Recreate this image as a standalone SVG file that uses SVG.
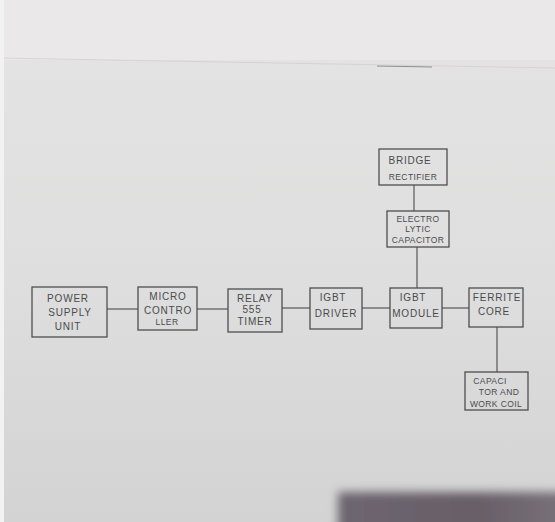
<svg xmlns="http://www.w3.org/2000/svg" width="555" height="522" viewBox="0 0 555 522">
<defs>
<linearGradient id="paper" x1="0" y1="0" x2="0" y2="1">
<stop offset="0" stop-color="#e6e4e5"/>
<stop offset="0.5" stop-color="#dedfde"/>
<stop offset="1" stop-color="#d2d3d2"/>
</linearGradient>
<linearGradient id="shadow" x1="0" y1="0" x2="1" y2="0">
<stop offset="0" stop-color="#6e6670"/>
<stop offset="0.6" stop-color="#675e68"/>
<stop offset="1" stop-color="#7a727b"/>
</linearGradient>
<filter id="blur" x="-10%" y="-50%" width="120%" height="200%"><feGaussianBlur stdDeviation="5"/></filter>
</defs>
<style>
.box{fill:none;stroke:#4f4f52;stroke-width:1.3}
.wire{fill:none;stroke:#58585b;stroke-width:1.2}
text{font-family:"Liberation Sans",Arial,sans-serif;font-size:10px;fill:#4a4a4e;text-anchor:middle;letter-spacing:0.8px}
.s{font-size:8.5px;letter-spacing:0.4px}
</style>
<rect x="0" y="0" width="555" height="522" fill="url(#paper)"/>
<rect x="0" y="0" width="555" height="60" fill="#ebe8ea"/>
<line x1="0" y1="58" x2="555" y2="68" stroke="#d6d3d5" stroke-width="1"/>
<line x1="377" y1="66" x2="432" y2="67" stroke="#8e8e92" stroke-width="1"/>
<rect x="0" y="0" width="4" height="522" fill="#f2f2f2"/>
<rect x="338" y="492" width="230" height="45" fill="url(#shadow)" filter="url(#blur)"/>

<g id="connectors">
<line class="wire" x1="107" y1="309" x2="138" y2="309"/>
<line class="wire" x1="197" y1="309" x2="228" y2="309"/>
<line class="wire" x1="282" y1="308" x2="310" y2="308"/>
<line class="wire" x1="362" y1="308" x2="390" y2="308"/>
<line class="wire" x1="442" y1="308" x2="469" y2="308"/>
<line class="wire" x1="414" y1="185" x2="414" y2="211"/>
<line class="wire" x1="417" y1="247" x2="417" y2="288"/>
<line class="wire" x1="497" y1="327" x2="497" y2="372"/>
</g>

<g id="psu">
<rect class="box" x="32" y="287" width="75" height="50"/>
<text x="68" y="302">POWER</text>
<text x="70" y="316">SUPPLY</text>
<text x="68" y="330">UNIT</text>
</g>
<g id="micro">
<rect class="box" x="138" y="287" width="59" height="43"/>
<text x="168" y="300">MICRO</text>
<text x="168" y="314">CONTRO</text>
<text class="s" x="167" y="325">LLER</text>
</g>
<g id="relay">
<rect class="box" x="228" y="289" width="54" height="43"/>
<text x="255" y="302">RELAY</text>
<text x="252" y="313">555</text>
<text x="255" y="325">TIMER</text>
</g>
<g id="driver">
<rect class="box" x="310" y="288" width="52" height="41"/>
<text x="333" y="301">IGBT</text>
<text x="336" y="317">DRIVER</text>
</g>
<g id="module">
<rect class="box" x="390" y="288" width="52" height="40"/>
<text x="413" y="301">IGBT</text>
<text x="416" y="317">MODULE</text>
</g>
<g id="ferrite">
<rect class="box" x="469" y="288" width="54" height="39"/>
<text x="497" y="301">FERRITE</text>
<text x="494" y="315">CORE</text>
</g>
<g id="bridge">
<rect class="box" x="379" y="149" width="68" height="36"/>
<text x="410" y="164">BRIDGE</text>
<text class="s" x="413" y="180">RECTIFIER</text>
</g>
<g id="electro">
<rect class="box" x="387" y="211" width="62" height="36"/>
<text class="s" x="418" y="222">ELECTRO</text>
<text class="s" x="418" y="232">LYTIC</text>
<text class="s" x="418" y="243">CAPACITOR</text>
</g>
<g id="coil">
<rect class="box" x="465" y="372" width="63" height="38"/>
<text class="s" x="490" y="384">CAPACI</text>
<text class="s" x="499" y="395">TOR AND</text>
<text class="s" x="496" y="407">WORK COIL</text>
</g>
</svg>
